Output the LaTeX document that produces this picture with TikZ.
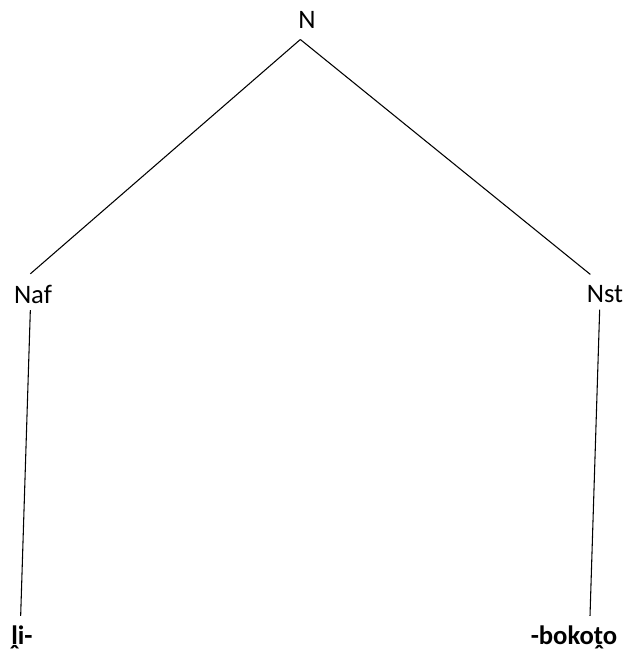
\documentclass[tikz,border=0pt]{standalone}
\usepackage{fontspec}
\setmainfont{Carlito}
\usetikzlibrary{positioning}

\begin{document}
\begin{tikzpicture}[x=0.75pt,y=-0.75pt]
  \tikzset{cat/.style={font=\fontsize{20}{24}\selectfont,inner sep=1pt},
           word/.style={font=\fontsize{20}{24}\selectfont\bfseries,inner sep=1pt}}
  \useasboundingbox (0,0) rectangle (628,656);
  \node[cat] (N) at (307,20) {N};
  \node[cat] (Naf) at (33,294) {Naf};
  \node[cat] (Nst) at (605,294) {Nst};
  \node[word] (li) at (22,637) {ḽi-};
  \node[word] (bokoto) at (574,637) {-bokoṱo};
  \draw[thick] ([xshift=-5pt,yshift=-7pt]N.south) -- ([xshift=-2pt,yshift=7pt]Naf.north);
  \draw[thick] ([xshift=-5pt,yshift=-7pt]N.south) -- ([xshift=-11pt,yshift=7pt]Nst.north);
  \draw[thick] ([xshift=-2pt,yshift=-4pt]Naf.south) -- ([xshift=-1pt,yshift=6pt]li.north);
  \draw[thick] ([xshift=-4pt,yshift=-4pt]Nst.south) -- ([xshift=12pt,yshift=6pt]bokoto.north);
\end{tikzpicture}
\end{document}
